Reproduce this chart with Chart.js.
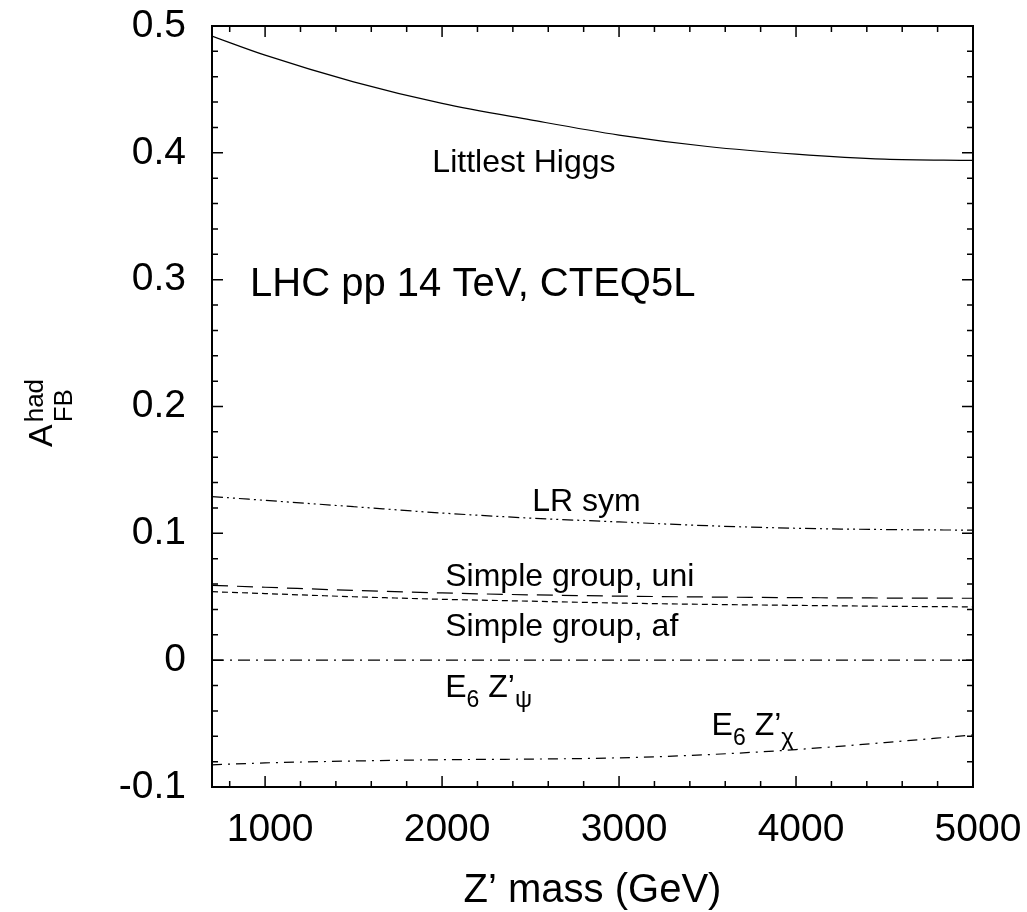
<!DOCTYPE html>
<html>
<head>
<meta charset="utf-8">
<script src="https://cdn.jsdelivr.net/npm/chart.js@4.4.1/dist/chart.umd.min.js"></script>
<style>
  body { margin: 0; background: #fff; }
</style>
</head>
<body>
<canvas id="afb-canvas" width="1027" height="912"></canvas>
<script>
// Z' mass (GeV) and forward-backward asymmetry
let masses      = [700, 1000, 1500, 2000, 2500, 3000, 3500, 4000, 4500, 5000];
let higgs       = [0.492, 0.477, 0.456, 0.439, 0.426, 0.414, 0.405, 0.399, 0.395, 0.394];
let lrSym       = [0.129, 0.126, 0.121, 0.116, 0.112, 0.109, 0.106, 0.104, 0.103, 0.1025];
let simpleUni   = [0.059, 0.0575, 0.055, 0.053, 0.0515, 0.0505, 0.0498, 0.0493, 0.049, 0.0488];
let simpleAf    = [0.054, 0.0525, 0.050, 0.048, 0.0465, 0.045, 0.044, 0.0432, 0.0425, 0.042];
let e6Psi       = [0, 0, 0, 0, 0, 0, 0, 0, 0, 0];
let e6Chi       = [-0.0825, -0.081, -0.0795, -0.0785, -0.078, -0.077, -0.0745, -0.0705, -0.065, -0.059];

let xTicks = [1000, 2000, 3000, 4000, 5000];
let yTicks = [-0.1, 0, 0.1, 0.2, 0.3, 0.4, 0.5];

const FONT = "'Liberation Sans', Arial, Helvetica, sans-serif";

function series(label, values, dash) {
  return {
    label: label,
    data: masses.map((m, i) => ({x: m, y: values[i]})),
    borderColor: '#000',
    borderWidth: 1.2,
    borderDash: dash,
    pointRadius: 0,
    fill: false,
    cubicInterpolationMode: 'monotone'
  };
}

// text labels: [parts, mass, asymmetry]; parts are [text, size, baseline shift]
let notes = [
  [[['Littlest Higgs', 32, 0]], 1945, 0.385],
  [[['LHC pp 14 TeV, CTEQ5L', 40, 0]], 915, 0.287],
  [[['LR sym', 32, 0]], 2510, 0.1177],
  [[['Simple group, uni', 32, 0]], 2018, 0.0585],
  [[['Simple group, af', 32, 0]], 2018, 0.019],
  [[['E', 32, 0], ['6', 23, 10], [' Z\u2019', 32, 0], ['\u03c8', 24, 10]], 2018, -0.029],
  [[['E', 32, 0], ['6', 23, 10], [' Z\u2019', 32, 0], ['\u03c7', 24, 10]], 3523, -0.059]
];

const decorations = {
  id: 'decorations',
  afterDraw(chart) {
    const ctx = chart.ctx;
    const xs = chart.scales.x, ys = chart.scales.y;
    const a = chart.chartArea;
    ctx.save();
    ctx.strokeStyle = '#000';
    ctx.lineWidth = 2;
    ctx.setLineDash([]);
    ctx.strokeRect(a.left, a.top, a.right - a.left, a.bottom - a.top);

    ctx.lineWidth = 1.5;
    ctx.beginPath();
    for (let m = 800; m <= 5000; m += 200) {
      let len = (m % 1000 === 0) ? 11 : 6;
      let px = xs.getPixelForValue(m);
      ctx.moveTo(px, a.bottom); ctx.lineTo(px, a.bottom - len);
      ctx.moveTo(px, a.top); ctx.lineTo(px, a.top + len);
    }
    for (let k = -5; k <= 25; k++) {
      let len = (k % 5 === 0) ? 11 : 6;
      let py = ys.getPixelForValue(k * 0.02);
      ctx.moveTo(a.left, py); ctx.lineTo(a.left + len, py);
      ctx.moveTo(a.right, py); ctx.lineTo(a.right - len, py);
    }
    ctx.stroke();

    // curve labels
    ctx.fillStyle = '#000';
    ctx.textBaseline = 'alphabetic';
    ctx.textAlign = 'left';
    notes.forEach(([parts, m, v]) => {
      let px = xs.getPixelForValue(m);
      let py = ys.getPixelForValue(v);
      parts.forEach(([txt, size, shift]) => {
        ctx.font = size + 'px ' + FONT;
        ctx.fillText(txt, px, py + shift);
        px += ctx.measureText(txt).width;
      });
    });

    // x axis title
    ctx.textAlign = 'center';
    ctx.font = '40px ' + FONT;
    ctx.fillText('Z\u2019 mass (GeV)', (a.left + a.right) / 2, 902);

    // y axis title: A_FB^had rotated
    ctx.translate(52, 447);
    ctx.rotate(-Math.PI / 2);
    ctx.textAlign = 'left';
    ctx.font = '34px ' + FONT;
    ctx.fillText('A', 0, 0);
    let w = ctx.measureText('A').width;
    ctx.font = '26px ' + FONT;
    ctx.fillText('FB', w + 2, 20);
    ctx.fillText('had', w + 2, -9);
    ctx.restore();
  }
};

let ctx = document.getElementById('afb-canvas').getContext('2d');
window.afbChart = new Chart(ctx, {
  type: 'line',
  data: {
    datasets: [
      series('Littlest Higgs', higgs, []),
      series('LR sym', lrSym, [11, 4, 2, 4, 2, 4]),
      series('Simple group, uni', simpleUni, [16, 9]),
      series('Simple group, af', simpleAf, [6, 4]),
      series('E6 Z\u2019 psi', e6Psi, [12, 6, 2, 6]),
      series('E6 Z\u2019 chi', e6Chi, [10, 6, 2, 6])
    ]
  },
  options: {
    responsive: false,
    animation: false,
    layout: { padding: { top: 26, right: 54, left: 0, bottom: 0 } },
    plugins: {
      legend: { display: false },
      tooltip: { enabled: false }
    },
    scales: {
      x: {
        type: 'linear',
        min: 700,
        max: 5000,
        afterBuildTicks: (s) => { s.ticks = xTicks.map(v => ({value: v})); },
        afterFit: (s) => {
          s.height = 125;
          s.paddingLeft = 0; s.paddingRight = 0;
        },
        grid: { display: false, drawTicks: false },
        border: { display: false },
        ticks: {
          padding: 20,
          labelOffset: 5,
          color: '#000',
          font: { family: FONT, size: 39 },
          maxRotation: 0,
          callback: (v) => String(v)
        }
      },
      y: {
        type: 'linear',
        min: -0.1,
        max: 0.5,
        afterBuildTicks: (s) => { s.ticks = yTicks.map(v => ({value: v})); },
        afterFit: (s) => {
          s.width = 212;
          s.paddingTop = 0; s.paddingBottom = 0;
        },
        grid: { display: false, drawTicks: false },
        border: { display: false },
        ticks: {
          padding: 26,
          color: '#000',
          font: { family: FONT, size: 39 },
          callback: (v) => String(Number(v.toFixed(1)))
        }
      }
    }
  },
  plugins: [decorations]
});
</script>
</body>
</html>
